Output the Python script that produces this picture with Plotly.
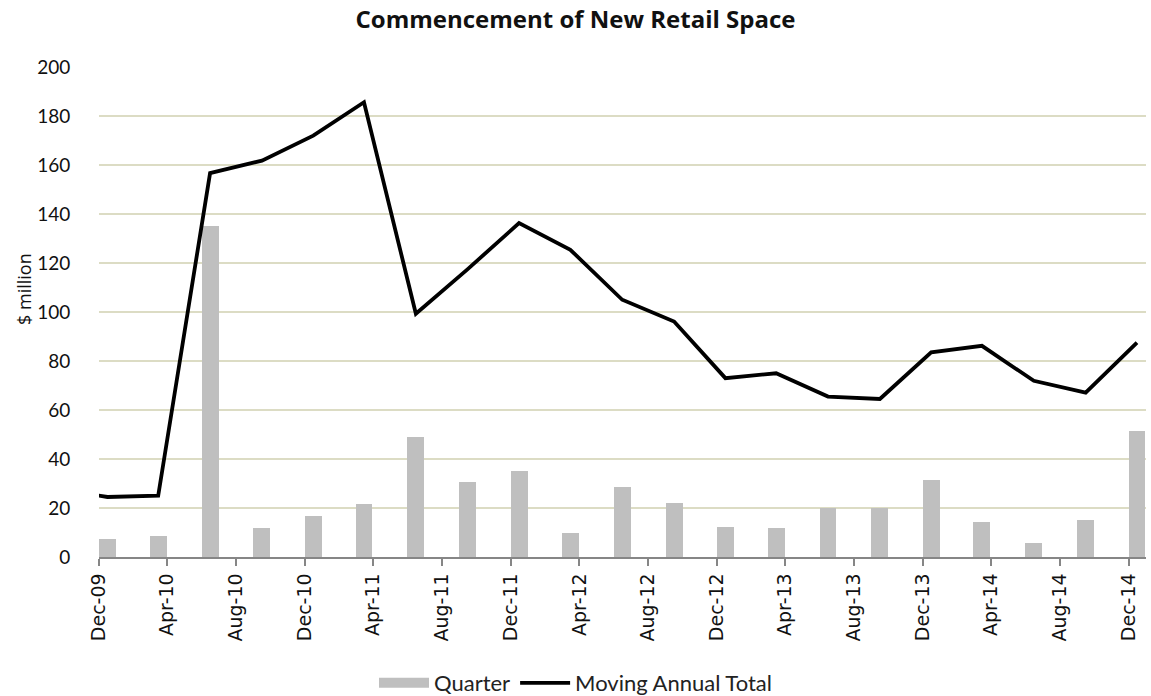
import plotly.graph_objects as go

# Quarter ending dates (plotted mid-month on a monthly date axis)
quarters = [
    "2009-12-16", "2010-03-16", "2010-06-16", "2010-09-16", "2010-12-16",
    "2011-03-16", "2011-06-16", "2011-09-16", "2011-12-16", "2012-03-16",
    "2012-06-16", "2012-09-16", "2012-12-16", "2013-03-16", "2013-06-16",
    "2013-09-16", "2013-12-16", "2014-03-16", "2014-06-16", "2014-09-16",
    "2014-12-16",
]

# Quarterly commencements, $ million
quarter_values = [
    7.2, 8.5, 135.3, 11.7, 16.9, 21.5, 48.9, 30.6, 35.1, 9.7, 28.7,
    22.2, 12.4, 11.7, 20.1, 20.1, 31.5, 14.3, 5.7, 15.1, 51.6,
]

# Moving annual total, $ million (series begins one quarter before the axis window)
mat_dates = ["2009-09-16"] + quarters
mat_values = [
    28.0, 24.5, 25.0, 156.7, 161.8, 172.0, 185.6, 99.3, 117.5, 136.3, 125.4,
    105.0, 96.1, 73.0, 75.0, 65.5, 64.5, 83.5, 86.2, 71.9, 67.1, 87.5,
]

# Axis ticks every four months
tick_dates = [
    "2009-12-01", "2010-04-01", "2010-08-01", "2010-12-01", "2011-04-01",
    "2011-08-01", "2011-12-01", "2012-04-01", "2012-08-01", "2012-12-01",
    "2013-04-01", "2013-08-01", "2013-12-01", "2014-04-01", "2014-08-01",
    "2014-12-01",
]
y_ticks = [0, 20, 40, 60, 80, 100, 120, 140, 160, 180, 200]

MONTH_MS = 30 * 24 * 3600 * 1000
BAR_COLOR = "#bfbfbf"

fig = go.Figure()
fig.add_trace(go.Bar(
    x=quarters, y=quarter_values, name="Quarter",
    marker=dict(color=BAR_COLOR, line=dict(width=0)),
    width=[MONTH_MS] * len(quarters),
    showlegend=False,
))
# Legend key for the bars: a wide flat swatch
fig.add_trace(go.Scatter(
    x=[None], y=[None], name="Quarter", mode="lines",
    line=dict(color=BAR_COLOR, width=13),
))
fig.add_trace(go.Scatter(
    x=mat_dates, y=mat_values, name="Moving Annual Total", mode="lines",
    line=dict(color="#000000", width=3.8),
))

fig.update_layout(
    width=1151, height=696,
    margin=dict(l=99, r=5, t=67, b=139),
    paper_bgcolor="white", plot_bgcolor="white",
    showlegend=True,
    title=dict(
        text="<b>Commencement of New Retail Space</b>",
        x=0.5, xref="container", xanchor="center",
        y=1 - 20 / 696, yref="container", yanchor="middle",
        font=dict(family="Open Sans", size=24, color="#111111"),
    ),
    legend=dict(
        orientation="h", x=0.5, xref="container", xanchor="center",
        y=1 - 683 / 696, yref="container", yanchor="middle",
        font=dict(family="Lato", size=22, color="#222222"),
        itemwidth=50, traceorder="normal", bgcolor="rgba(0,0,0,0)",
    ),
    xaxis=dict(
        type="date",
        range=["2009-12-01", "2015-01-01"],
        tickmode="array", tickvals=tick_dates, tickformat="%b-%y",
        tickangle=-90,
        tickfont=dict(family="DejaVu Sans", size=19, color="#111111"),
        showgrid=False,
        showline=True, linecolor="#868686", linewidth=1.5,
        ticks="outside", ticklen=7, tickcolor="#868686", tickwidth=1.5,
        zeroline=False, fixedrange=True,
    ),
    yaxis=dict(
        range=[0, 200],
        tickmode="array", tickvals=y_ticks,
        tickfont=dict(family="Lato", size=19, color="#111111"),
        showgrid=True, gridcolor="#dcdcc4", gridwidth=1.5,
        showline=False, zeroline=False,
        ticks="outside", ticklen=24, tickcolor="rgba(0,0,0,0)",
        fixedrange=True,
    ),
    bargap=0,
)

# Y-axis title placed in pixel terms relative to the plot area
plot_left, plot_right, plot_top, plot_bottom = 99, 1146, 67, 557
fig.add_annotation(
    text="$ million", textangle=-90,
    x=(24 - plot_left) / (plot_right - plot_left), xref="paper",
    y=(plot_bottom - 289) / (plot_bottom - plot_top), yref="paper",
    xanchor="center", yanchor="middle", showarrow=False,
    font=dict(family="Open Sans", size=18, color="#111111"),
)

fig.write_html("out.html")
